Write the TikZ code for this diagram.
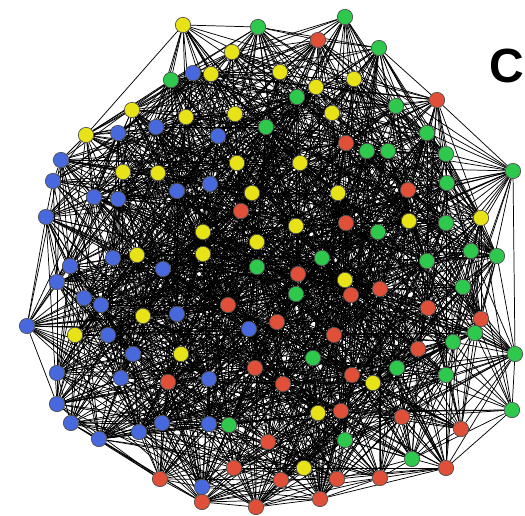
\documentclass[tikz,border=0pt]{standalone}
\usepackage{fontspec}
\setmainfont{Liberation Sans}
\definecolor{cyel}{RGB}{232,226,24}
\definecolor{cblu}{RGB}{72,104,222}
\definecolor{cgrn}{RGB}{46,200,76}
\definecolor{cred}{RGB}{224,80,56}
\pgfdeclarelayer{edges}
\pgfsetlayers{edges,main}
\tikzset{
  vert/.style={circle,draw=black!70,line width=0.5pt,inner sep=0pt,minimum size=11.5pt},
  link/.style={line width=0.55pt,black}
}

\begin{document}
\begin{tikzpicture}[x=0.75pt,y=0.75pt,yscale=-1,xscale=1]
\useasboundingbox (0,0) rectangle (525,515);
\pgfmathsetseed{4711}

% yellow group
\foreach \x/\y [count=\k from 1] in {183/25,232/52,211/74,132/110,186/117,235/114,86/135,123/172,158/173,237/163,252/193,203/232,257/242,137/255,203/254,280/72,316/87,354/79,332/113,300/163,338/193,481/218,409/221,296/226,143/316,75/335,181/354,345/280,373/383,318/413,304/468}{
  \node[vert,fill=cyel] (v\k) at (\x,\y) {};
  \expandafter\xdef\csname px\k\endcsname{\x}
  \expandafter\xdef\csname py\k\endcsname{\y}
}
% blue group
\foreach \x/\y [count=\k from 32] in {193/73,118/133,156/127,218/136,61/160,53/181,210/184,177/191,94/197,118/199,46/217,113/258,70/266,163/269,57/282,84/298,101/305,177/314,27/326,108/335,249/329,133/354,57/373,121/378,209/379,57/404,71/423,162/423,139/432,209/424,99/439,202/487}{
  \node[vert,fill=cblu] (v\k) at (\x,\y) {};
  \expandafter\xdef\csname px\k\endcsname{\x}
  \expandafter\xdef\csname py\k\endcsname{\y}
}
% green group
\foreach \x/\y [count=\k from 64] in {258/27,171/80,266/127,345/17,379/48,297/97,396/106,427/133,367/151,388/151,446/154,513/171,447/183,446/223,378/232,471/251,497/256,322/258,427/261,257/267,463/287,296/294,475/333,453/342,515/354,313/358,397/368,446/375,512/410,229/425,345/440,412/459}{
  \node[vert,fill=cgrn] (v\k) at (\x,\y) {};
  \expandafter\xdef\csname px\k\endcsname{\x}
  \expandafter\xdef\csname py\k\endcsname{\y}
}
% red group
\foreach \x/\y [count=\k from 96] in {318/40,437/100,346/143,241/211,408/190,346/223,298/274,380/289,351/295,228/305,428/308,481/319,277/322,334/335,418/349,255/368,168/382,352/375,283/384,341/411,402/417,461/429,268/442,234/468,446/468,160/479,281/480,337/479,380/478,202/502,320/499,256/507}{
  \node[vert,fill=cred] (v\k) at (\x,\y) {};
  \expandafter\xdef\csname px\k\endcsname{\x}
  \expandafter\xdef\csname py\k\endcsname{\y}
}

% links, mostly between close vertices
\begin{pgfonlayer}{edges}
\foreach \i in {1,...,126}{
  \pgfmathtruncatemacro\jstart{\i+1}
  \foreach \j in {\jstart,...,127}{
    \pgfmathsetmacro\dd{veclen(\csname px\i\endcsname-\csname px\j\endcsname,\csname py\i\endcsname-\csname py\j\endcsname)}
    \pgfmathsetmacro\pp{\dd<130?0.7:(\dd<250?0.3:0.06)}
    \pgfmathsetmacro\rr{rnd}
    \ifdim\rr pt<\pp pt\relax \draw[link] (v\i) -- (v\j);\fi
  }
}
\end{pgfonlayer}

% panel letter
\node[font=\fontsize{36}{36}\selectfont\bfseries] (lbl) at (507,66) {C};

\end{tikzpicture}
\end{document}
